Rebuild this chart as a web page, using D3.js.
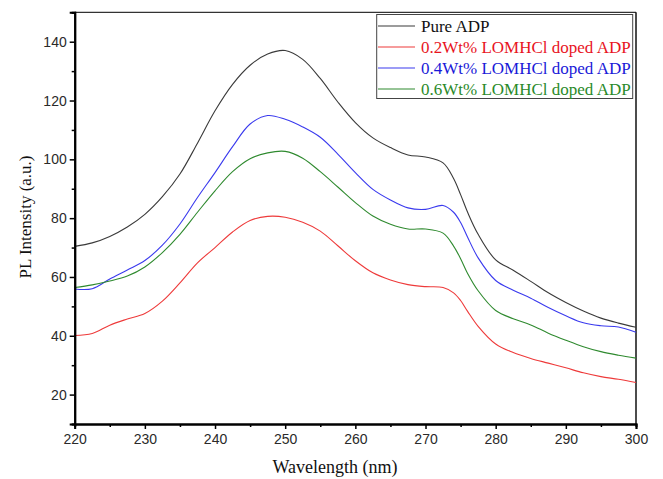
<!DOCTYPE html>
<html>
<head>
<meta charset="utf-8">
<script src="https://cdn.jsdelivr.net/npm/d3@7"></script>
<style>
body { margin:0; background:white; }
</style>
</head>
<body>
<svg id="chartSVG" width="663" height="479"></svg>
<script>

wavelength = [220,222.5,225,227.5,230,232.5,235,237.5,240,242.5,245,247.5,250,252.5,255,257.5,260,262.5,265,267.5,270,272.5,274,275,276,277.5,280,282.5,285,287.5,290,292.5,295,297.5,300]

pureADP = [70.4,71.6,73.8,77,81.3,87.3,95,105.5,116.5,125.5,132,135.8,137,134,127.5,119.5,112.5,107.3,104,101.5,100.8,98.8,93.5,88,82,74.5,65.8,62.3,58.5,54.6,51.3,48.4,46,44.3,42.9]
doped02 = [40.1,40.8,43.6,45.7,47.6,51.8,58,64.8,70,75.3,79.2,80.6,80.3,78.6,75.6,70.6,65.5,61.4,59,57.4,56.7,56.4,54.6,52,48.3,43.2,37.2,34.3,32.3,30.7,29.1,27.4,26.1,25.2,24.1]
doped04 = [55.9,56,59.3,62.4,65.6,70.8,78,87,95.5,104.3,112,114.9,113.6,111,107.5,101.8,95.5,89.8,86.2,83.5,83,84.3,82,78.5,73.5,66.5,58.8,55.5,52.8,49.6,46.8,44.4,43.4,43,41.2]
doped06 = [56.4,57.3,58.6,60.3,63.4,68.3,74.5,82,89.3,95.8,100.2,102.2,102.7,100.4,95.8,90.6,85.3,80.7,77.9,76.3,76.3,74.9,70.5,66.2,61.2,55.3,48.6,45.8,43.7,40.9,38.5,36.3,34.6,33.4,32.4]

seriesNames = ["Pure ADP","0.2Wt% LOMHCl doped ADP","0.4Wt% LOMHCl doped ADP","0.6Wt% LOMHCl doped ADP"]
seriesValues = [pureADP, doped02, doped04, doped06]
lineColors = ["#3a3a3a","#ee3a3a","#3a3aee","#2f8a2f"]
textColors = ["#111111","#e8141e","#1a1ad8","#2a8a2a"]

xTicks = [220,230,240,250,260,270,280,290,300]
yTicks = [20,40,60,80,100,120,140]

var plotLeft = 74.7, plotRight = 636, plotTop = 12.3, plotBottom = 424

var svg = d3.select("#chartSVG")

var x = d3.scaleLinear().domain([220,300]).range([plotLeft,plotRight])
var y = d3.scaleLinear().domain([10,150]).range([plotBottom,plotTop])

// frame top and right
svg.append("line")
.attr("x1",plotLeft).attr("x2",plotRight).attr("y1",plotTop).attr("y2",plotTop)
.attr("stroke","#333").attr("stroke-width",1.2)
svg.append("line")
.attr("x1",plotRight).attr("x2",plotRight).attr("y1",plotTop).attr("y2",plotBottom)
.attr("stroke","#111").attr("stroke-width",1.5)

// curves
var line = d3.line()
.x(function(d,i){ return x(wavelength[i]) })
.y(function(d){ return y(d) })
.curve(d3.curveCatmullRom.alpha(0.5))

svg.selectAll("path.curve")
.data(seriesValues)
.enter()
.append("path")
.attr("class","curve")
.attr("d",function(d){ return line(d) })
.attr("fill","none")
.attr("stroke",function(d,i){ return lineColors[i] })
.attr("stroke-width",1.1)

// axes
var xAxis = svg.append("g")
.attr("transform","translate(0,"+plotBottom+")")
.call(d3.axisBottom(x).tickValues(xTicks).tickSize(5).tickPadding(5).tickFormat(d3.format("d")))
xAxis.append("g").call(d3.axisBottom(x).tickValues(d3.range(225,300,10)).tickSize(3).tickFormat(""))

var yAxis = svg.append("g")
.attr("transform","translate("+plotLeft+",0)")
.call(d3.axisLeft(y).tickValues(yTicks).tickSize(5).tickPadding(3).tickFormat(d3.format("d")))
yAxis.append("g").call(d3.axisLeft(y).tickValues(d3.range(10,151,20)).tickSize(3).tickFormat(""))

svg.selectAll(".domain").attr("stroke","#000").attr("stroke-width",2)
svg.selectAll(".tick line").attr("stroke","#000").attr("stroke-width",1.5)
svg.selectAll(".tick text")
.attr("font-family","'Liberation Sans', Arial, sans-serif")
.attr("font-size",14)
.attr("fill","#2a2a2a")

// axis titles
svg.append("text")
.attr("x",335).attr("y",473)
.attr("text-anchor","middle")
.attr("font-family","'Liberation Serif', 'Times New Roman', serif")
.attr("font-size",18)
.attr("fill","#111")
.text("Wavelength (nm)")

svg.append("text")
.attr("transform","translate(31,217) rotate(-90)")
.attr("text-anchor","middle")
.attr("font-family","'Liberation Serif', 'Times New Roman', serif")
.attr("font-size",17)
.attr("fill","#111")
.text("PL Intensity (a.u.)")

// legend
var legend = svg.append("g")
legend.append("rect")
.attr("x",376.7).attr("y",14.5).attr("width",256).attr("height",84)
.attr("fill","white").attr("stroke","#444").attr("stroke-width",1)

var rows = legend.selectAll("g.row")
.data(seriesNames)
.enter()
.append("g")
.attr("class","row")
.attr("transform",function(d,i){ return "translate(0,"+(26+i*21)+")" })

rows.append("line")
.attr("x1",378).attr("x2",415).attr("y1",0).attr("y2",0)
.attr("stroke",function(d,i){ return lineColors[i] })
.attr("stroke-width",1.1)

rows.append("text")
.attr("x",421).attr("y",5.5)
.attr("font-family","'Liberation Serif', 'Times New Roman', serif")
.attr("font-size",17)
.attr("fill",function(d,i){ return textColors[i] })
.text(function(d){ return d })

</script>
</body>
</html>
